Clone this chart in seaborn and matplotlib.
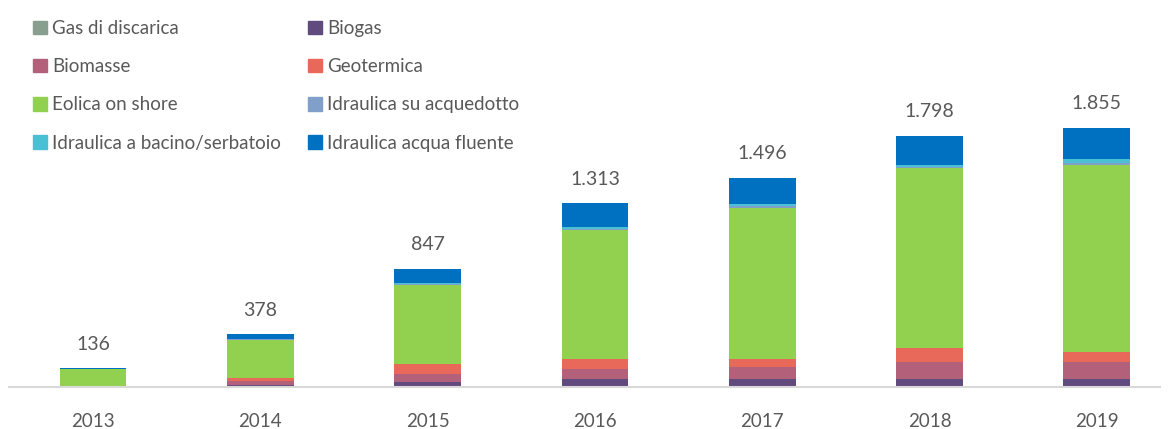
import pandas as pd
import numpy as np
import matplotlib
matplotlib.use("Agg")
import matplotlib.pyplot as plt
import seaborn as sns

# Data (MW)
anni = ["2013", "2014", "2015", "2016", "2017", "2018", "2019"]
gas_discarica = [0, 0, 0, 0, 0, 0, 0]
biogas = [1, 17, 38, 55, 57, 60, 59]
biomasse = [1, 26, 53, 71, 84, 122, 121]
geotermica = [0, 19, 76, 76, 60, 95, 71]
eolica = [126, 276, 563, 920, 1082, 1287, 1337]
idr_acquedotto = [1, 2, 7, 10, 12, 10, 10]
idr_bacino = [1, 2, 5, 10, 12, 14, 31]
idr_fluente = [6, 36, 105, 171, 189, 210, 226]

serie = ["Gas di discarica", "Biogas", "Biomasse", "Geotermica", "Eolica on shore",
         "Idraulica su acquedotto", "Idraulica a bacino/serbatoio", "Idraulica acqua fluente"]
colori = ["#889E8E", "#604A7E", "#B3607A", "#E8685A", "#92D050",
          "#819FCB", "#4BBFD3", "#0070C0"]

df = pd.DataFrame({
    "Anno": anni,
    "Gas di discarica": gas_discarica,
    "Biogas": biogas,
    "Biomasse": biomasse,
    "Geotermica": geotermica,
    "Eolica on shore": eolica,
    "Idraulica su acquedotto": idr_acquedotto,
    "Idraulica a bacino/serbatoio": idr_bacino,
    "Idraulica acqua fluente": idr_fluente,
})

# cumulative sums so the stack can be drawn from the top down
cum = df[serie].cumsum(axis=1)
cum["Anno"] = df["Anno"]

sns.set_style("white")
plt.rcParams["font.family"] = ["Lato", "DejaVu Sans"]
grigio = "#595959"

fig = plt.figure(figsize=(11.68, 4.29), dpi=100)
ax = fig.add_axes([9.35 / 1168, 42 / 429, (1160 - 9.35) / 1168, 387 / 429])

for nome, col in reversed(list(zip(serie, colori))):
    sns.barplot(data=cum, x="Anno", y=nome, color=col, width=0.4,
                saturation=1, ax=ax, edgecolor="none")

# labels with totals on top of the tallest bars (first container drawn)
totali = cum["Idraulica acqua fluente"].tolist()
etichette = [f"{v:,}".replace(",", ".") for v in totali]
ax.bar_label(ax.containers[0], labels=etichette, padding=11,
             fontsize=14, color=grigio)

ax.set_xlim(-0.5, 6.377)
ax.set_ylim(0, 2767)
ax.set_xlabel("")
ax.set_ylabel("")
ax.set_yticks([])
ax.tick_params(axis="x", length=0, labelsize=13.5, labelcolor=grigio, pad=19)
for s in ["top", "right", "left"]:
    ax.spines[s].set_visible(False)
ax.spines["bottom"].set_color("#D9D9D9")
ax.spines["bottom"].set_linewidth(1.5)

# legend filled row by row like the original (two columns)
ordine = [0, 2, 4, 6, 1, 3, 5, 7]
handles = [plt.Rectangle((0, 0), 1, 1, color=colori[i]) for i in ordine]
nomi = [serie[i] for i in ordine]
fig.legend(handles, nomi, loc="upper left", bbox_to_anchor=(33 / 1168, 1 - 20 / 429),
           ncol=2, frameon=False, fontsize=13.5, labelcolor=grigio,
           handlelength=0.72, handleheight=0.72, handletextpad=0.3,
           labelspacing=1.13, columnspacing=1.45, borderpad=0, borderaxespad=0)

plt.savefig("out.png", dpi=100)
